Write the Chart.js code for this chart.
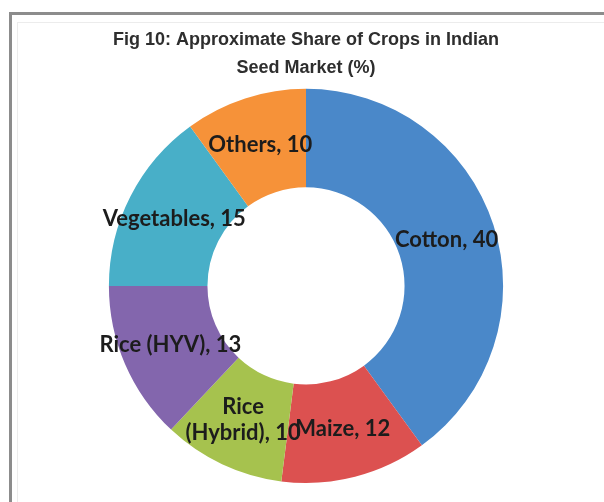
<!DOCTYPE html>
<html>
<head>
<meta charset="utf-8">
<script src="https://cdn.jsdelivr.net/npm/chart.js@4"></script>
<style>
  body { margin: 0; background: #fff; }
  #wrap { position: relative; width: 604px; height: 502px; overflow: hidden; }
  #frame { position: absolute; left: 9px; top: 12px; width: 600px; height: 500px;
           border-top: 3px solid #8c8c8c; border-left: 3px solid #8c8c8c; }
  #inner { position: absolute; left: 17px; top: 22px; width: 600px; height: 500px;
           border-top: 1px solid #ececec; border-left: 1px solid #ececec; }
  canvas { position: absolute; left: 0; top: 0; }
</style>
</head>
<body>
<div id="wrap">
  <div id="frame"></div>
  <div id="inner"></div>
  <canvas id="seedChart" width="604" height="502"></canvas>
</div>
<script>
// crops and their share (%) of the Indian seed market
let crops = ["Cotton", "Maize", "Rice\n(Hybrid)", "Rice (HYV)", "Vegetables", "Others"];
let shares = [40, 12, 10, 13, 15, 10];
let sliceColors = ["#4a88c9", "#dc5150", "#a6c24e", "#8366ad", "#48afc8", "#f69239"];

// draw "name, value" on each slice, like Excel data labels
const sliceLabels = {
    id: "sliceLabels",
    afterDatasetsDraw(chart) {
        let ctx = chart.ctx;
        let meta = chart.getDatasetMeta(0);
        ctx.save();
        ctx.font = "bold 22px Lato";
        ctx.fillStyle = "#1c1c1c";
        ctx.textAlign = "center";
        ctx.textBaseline = "middle";
        meta.data.forEach((arc, i) => {
            let pos = arc.tooltipPosition();
            let lines = (crops[i] + ", " + shares[i]).split("\n");
            let lh = 26;
            let y0 = pos.y - (lines.length - 1) * lh / 2;
            lines.forEach((t, j) => ctx.fillText(t, pos.x, y0 + j * lh));
        });
        ctx.restore();
    }
};

new Chart("seedChart", {
    type: "doughnut",
    data: {
        labels: crops,
        datasets: [{
            data: shares,
            backgroundColor: sliceColors,
            borderWidth: 0
        }]
    },
    options: {
        responsive: false,
        animation: false,
        cutout: "50%",
        layout: { padding: { left: 10, right: 2, top: 0, bottom: 19 } },
        plugins: {
            legend: { display: false },
            tooltip: { enabled: false },
            title: {
                display: true,
                text: ["Fig 10: Approximate Share of Crops in Indian", "Seed Market (%)"],
                color: "#2e2e2e",
                font: { family: "'Liberation Sans', Arial", size: 18, weight: "bold", lineHeight: 1.55 },
                padding: { top: 26, bottom: 7 }
            }
        }
    },
    plugins: [sliceLabels]
});
</script>
</body>
</html>
